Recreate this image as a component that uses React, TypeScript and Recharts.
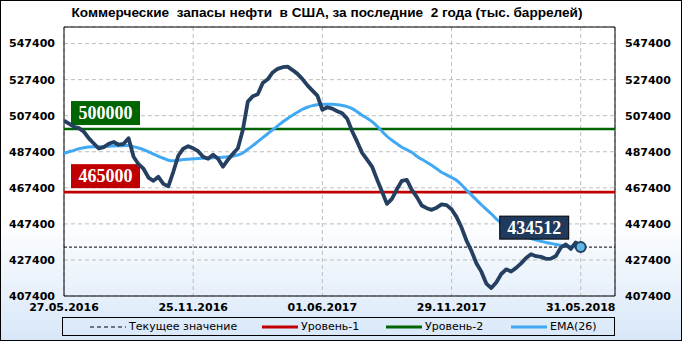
import {
  LineChart,
  Line,
  XAxis,
  YAxis,
  CartesianGrid,
  ReferenceLine,
  ReferenceArea,
  ReferenceDot,
} from 'recharts';

// ── Data ──────────────────────────────────────────────────────────────────────

const dateLabels = ['27.05.2016', '25.11.2016', '01.06.2017', '29.11.2017', '31.05.2018'];
const dateTickIdx = [0, 26, 52, 78, 104];
const yTicks = [407400, 427400, 447400, 467400, 487400, 507400, 527400, 547400];

// weekly commercial stocks, thous. barrels
const stocks = [
  504600, 503000, 501300, 500500, 498500, 494800, 492000, 489200, 490000, 491800,
  492800, 491300, 491800, 494900, 484600, 480500, 478000, 473100, 471300, 473500,
  469600, 468200, 476300, 485200, 489100, 490500, 489300, 487700, 484600, 483500,
  485700, 483500, 479100, 483000, 486300, 489300, 499600, 515200, 518200, 519300,
  525500, 527600, 531400, 533400, 534300, 534600, 532700, 530600, 527700, 524200,
  521300, 518500, 510700, 512100, 511300, 509900, 508700, 505700, 498800, 493000,
  486800, 483000, 479200, 472100, 465400, 458500, 461300, 466600, 471300, 471800,
  466300, 462400, 457600, 456100, 455200, 456400, 458200, 457800, 455500, 451300,
  445500, 438200, 432400, 425600, 420900, 414300, 411800, 414900, 419600, 422200,
  421000, 423000, 425500, 428500, 430600, 429500, 429100, 428000, 428100, 429600,
  434300, 436000, 433500, 437100, 434512,
];

const ema26 = [
  486600, 487400, 488200, 489100, 489600, 490000, 490200, 490200, 490300, 490500,
  490600, 490700, 490800, 490900, 490200, 489500, 488600, 487400, 486100, 484900,
  483800, 482700, 482400, 482700, 483100, 483300, 483500, 483700, 483800, 483900,
  484100, 484200, 484300, 484600, 485100, 485600, 486700, 488800, 490800, 493000,
  495200, 497400, 499600, 501700, 503900, 505900, 507700, 509300, 511000, 512100,
  513000, 513500, 513800, 513800, 513700, 513500, 513100, 512400, 511300, 509600,
  507700, 506000, 504100, 501600, 498800, 496000, 493800, 491800, 489900, 488500,
  487100, 484900, 483200, 481600, 479900, 478000, 476000, 474600, 473100, 471600,
  469100, 466100, 463500, 460700, 458000, 455500, 453000, 450200, 448000, 446000,
  444300, 442700, 441600, 440500, 439300, 438500, 437800, 437100, 436600, 436000,
  435600, 435200, 434900, 434600, 434500,
];

const level1 = 465000;
const level2 = 500000;
const current = stocks[stocks.length - 1];

const Y_MIN = 407400;
const Y_MAX = 556600;
const X_MAX = 110.9;

const data = stocks.map((v, i) => ({ i, v, ema: ema26[i] }));

// ── Styles ────────────────────────────────────────────────────────────────────

const NAVY = '#243F60';
const EMA_BLUE = '#41A8F4';
const RED = '#C00000';
const GREEN = '#006400';

const tickStyle = { fontSize: 11, fontFamily: 'DejaVu Sans, sans-serif', fontWeight: 700, fill: '#000' };
const boxFont = 'Liberation Serif, serif';

// ── Labels ────────────────────────────────────────────────────────────────────

function LevelLabel({ viewBox, value, color }: any) {
  if (!viewBox) return null;
  const x = viewBox.x + 7;
  const y = viewBox.y - 28;
  return (
    <g>
      <rect x={x} y={y} width={69} height={24} fill={color} />
      <text
        x={x + 34.5}
        y={y + 18}
        textAnchor="middle"
        fill="#fff"
        fontFamily={boxFont}
        fontWeight={700}
        fontSize={18}
      >
        {value}
      </text>
    </g>
  );
}

function LastPoint({ cx, cy }: any) {
  if (cx == null || cy == null) return null;
  return (
    <g>
      <rect x={cx - 81} y={cy - 31} width={69} height={23} fill="#1F3A5C" stroke="#000" strokeWidth={1} />
      <text
        x={cx - 46.5}
        y={cy - 13}
        textAnchor="middle"
        fill="#fff"
        fontFamily={boxFont}
        fontWeight={700}
        fontSize={18}
      >
        {current}
      </text>
      <circle cx={cx} cy={cy} r={5} fill="#5DB8E6" stroke={NAVY} strokeWidth={2} />
    </g>
  );
}

// ── Legend ────────────────────────────────────────────────────────────────────

function LegendItem({ left, color, dashed, text }: any) {
  return (
    <div style={{ position: 'absolute', left, top: 0, height: 17, display: 'flex', alignItems: 'center' }}>
      <svg width={36} height={6} style={{ marginRight: 3 }}>
        <line
          x1={0}
          y1={3}
          x2={36}
          y2={3}
          stroke={color}
          strokeWidth={dashed ? 1 : 3}
          strokeDasharray={dashed ? '4 3' : undefined}
        />
      </svg>
      <span>{text}</span>
    </div>
  );
}

// ── Chart ─────────────────────────────────────────────────────────────────────

export default function App() {
  return (
    <div
      style={{
        position: 'relative',
        width: 682,
        height: 341,
        boxSizing: 'border-box',
        border: '1px solid #000',
        background: 'linear-gradient(to bottom, #ffffff 0%, #ffffff 64%, #D8E7F8 100%)',
        overflow: 'hidden',
      }}
    >
      <style>{`body{margin:0}`}</style>
      <div
        style={{
          position: 'absolute',
          left: 0,
          top: 4,
          width: 652,
          textAlign: 'center',
          fontFamily: 'Liberation Sans, Arial, sans-serif',
          fontWeight: 700,
          fontSize: 13.6,
          lineHeight: '16px',
          whiteSpace: 'pre',
        }}
      >
        Коммерческие  запасы нефти  в США, за последние  2 года (тыс. баррелей)
      </div>

      <LineChart width={680} height={339} data={data} margin={{ top: 26, right: 0, bottom: 24, left: 0 }}>
        <CartesianGrid
          yAxisId="l"
          stroke="#BDBDBD"
          strokeDasharray="4 3"
          strokeWidth={1}
        />
        <XAxis
          dataKey="i"
          type="number"
          domain={[0, X_MAX]}
          ticks={dateTickIdx}
          tickFormatter={(v) => dateLabels[dateTickIdx.indexOf(v)] ?? ''}
          tick={tickStyle}
          axisLine={false}
          tickLine={false}
          tickSize={0}
          tickMargin={7}
          height={20}
          allowDataOverflow
        />
        <YAxis
          yAxisId="l"
          orientation="left"
          domain={[Y_MIN, Y_MAX]}
          ticks={yTicks}
          tick={tickStyle}
          axisLine={false}
          tickLine={false}
          tickSize={0}
          tickMargin={9}
          width={63}
          allowDataOverflow
        />
        <YAxis
          yAxisId="r"
          orientation="right"
          domain={[Y_MIN, Y_MAX]}
          ticks={yTicks}
          tick={{ ...tickStyle, textAnchor: 'start' }}
          axisLine={false}
          tickLine={false}
          tickSize={0}
          tickMargin={10}
          width={66}
          allowDataOverflow
        />

        <ReferenceArea
          yAxisId="l"
          x1={0}
          x2={X_MAX}
          y1={Y_MIN}
          y2={Y_MAX}
          fill="none"
          stroke="#000"
          strokeWidth={1}
          fillOpacity={0}
        />

        <ReferenceLine yAxisId="l" y={current} stroke="#000" strokeWidth={1} strokeDasharray="3 2" />
        <ReferenceLine
          yAxisId="l"
          y={level1}
          stroke={RED}
          strokeWidth={2.6}
          label={<LevelLabel value={level1} color={RED} />}
        />
        <ReferenceLine
          yAxisId="l"
          y={level2}
          stroke={GREEN}
          strokeWidth={2.6}
          label={<LevelLabel value={level2} color={GREEN} />}
        />

        <Line
          yAxisId="l"
          type="monotone"
          dataKey="ema"
          stroke={EMA_BLUE}
          strokeWidth={3}
          dot={false}
          isAnimationActive={false}
        />
        <Line
          yAxisId="l"
          type="linear"
          dataKey="v"
          stroke={NAVY}
          strokeWidth={3.8}
          strokeLinejoin="round"
          dot={false}
          isAnimationActive={false}
        />

        <ReferenceDot
          yAxisId="l"
          x={stocks.length - 1}
          y={current}
          r={5}
          shape={<LastPoint />}
        />
      </LineChart>

      <div
        style={{
          position: 'absolute',
          left: 61,
          top: 316,
          width: 553,
          height: 19,
          boxSizing: 'border-box',
          border: '1px solid #000',
          fontFamily: 'DejaVu Sans, sans-serif',
          fontSize: 11,
        }}
      >
        <LegendItem left={27} color="#000" dashed text="Текущее значение" />
        <LegendItem left={199} color={RED} text="Уровень-1" />
        <LegendItem left={323} color={GREEN} text="Уровень-2" />
        <LegendItem left={448} color={EMA_BLUE} text="EMA(26)" />
      </div>
    </div>
  );
}
